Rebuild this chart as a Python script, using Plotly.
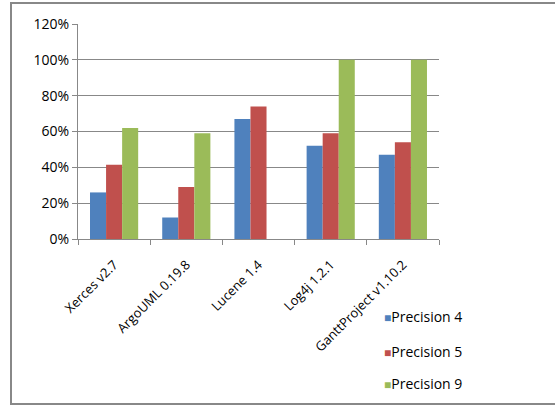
import plotly.graph_objects as go

categories = ["Xerces v2.7", "ArgoUML 0.19.8", "Lucene 1.4", "Log4j 1.2.1", "GanttProject v1.10.2"]
precision4 = [0.26, 0.12, 0.67, 0.52, 0.47]
precision5 = [0.415, 0.29, 0.74, 0.59, 0.54]
precision9 = [0.62, 0.59, 0.0, 1.0, 1.0]
series_names = ["Precision 4", "Precision 5", "Precision 9"]
colors = ["#4F81BD", "#C0504D", "#9BBB59"]

font_family = "Open Sans, sans-serif"

fig = go.Figure()
for name, vals, col in zip(series_names, [precision4, precision5, precision9], colors):
    fig.add_trace(go.Bar(x=categories, y=vals, name=name, marker_color=col,
                         marker_line_width=0, showlegend=False))

W, H = 555, 407
L, R, T, B = 78, 439, 24, 239
pw, ph = R - L, B - T

def px(x):
    return (x - L) / pw

def py(y):
    return (B - y) / ph

fig.add_shape(type="rect", xref="paper", yref="paper",
              x0=px(11), x1=px(557), y0=py(404), y1=py(3),
              line=dict(color="#888888", width=2), fillcolor="rgba(0,0,0,0)", layer="below")

# legend drawn as text entries
legend_y = [316, 351, 384]
for name, col, yy in zip(series_names, colors, legend_y):
    fig.add_annotation(xref="paper", yref="paper", x=px(382), y=py(yy),
                       xanchor="left", yanchor="middle", showarrow=False,
                       text=f"<span style='color:{col};font-size:12px'>■</span>{name}",
                       font=dict(family=font_family, size=14, color="#000000"))

fig.update_layout(
    width=W, height=H,
    margin=dict(l=L, r=W - R, t=T, b=H - B, pad=0, autoexpand=False),
    paper_bgcolor="white", plot_bgcolor="white",
    barmode="group", bargap=0.333, bargroupgap=0,
    font=dict(family=font_family, size=13, color="#000000"),
    showlegend=False,
    xaxis=dict(tickangle=-45, ticks="outside", tickson="boundaries", ticklen=5,
               tickcolor="#888888", showline=True, linecolor="#888888", linewidth=1,
               automargin=False, ticklabelstandoff=12,
               tickfont=dict(family=font_family, size=13)),
    yaxis=dict(range=[0, 1.2], dtick=0.2, tickformat=".0%", showgrid=True,
               gridcolor="#888888", gridwidth=1, ticks="outside", ticklen=5,
               tickcolor="#888888", showline=True, linecolor="#888888", linewidth=1,
               zeroline=False, automargin=False,
               tickfont=dict(family=font_family, size=14)),
)

fig.write_html("out.html")
